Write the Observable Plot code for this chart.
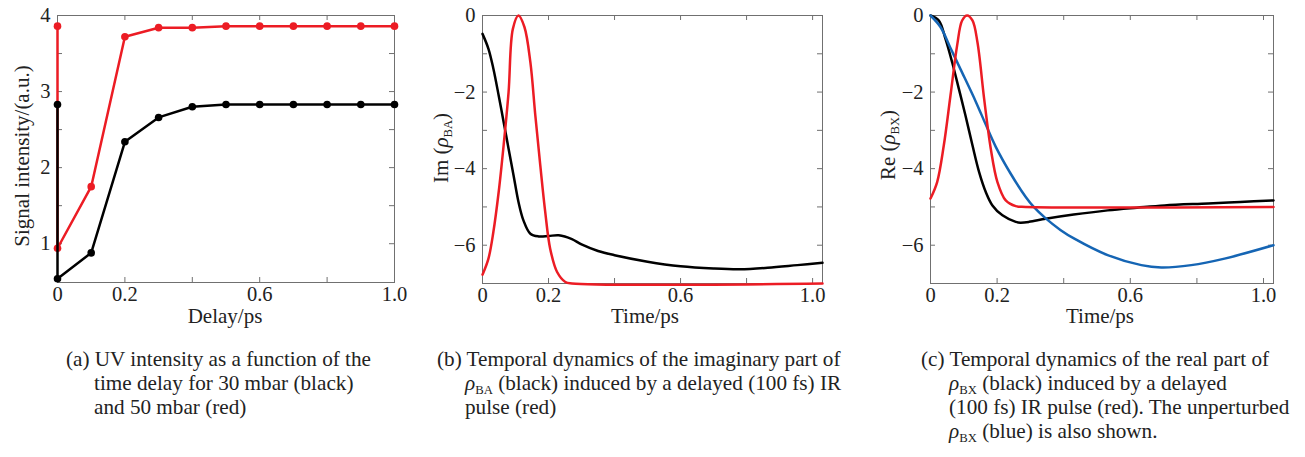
<!DOCTYPE html>
<html><head><meta charset="utf-8">
<script src="https://cdn.jsdelivr.net/npm/d3@7"></script>
<script src="https://cdn.jsdelivr.net/npm/@observablehq/plot@0.6"></script>
<style>
body{margin:0;background:#fff;}
#root{position:relative;width:1305px;height:457px;font-family:"Liberation Serif","Times New Roman",serif;color:#222;overflow:hidden;}
.panel{position:absolute;top:0;}
.ylab{position:absolute;transform:translate(-50%,-50%) rotate(-90deg);white-space:nowrap;font-size:21px;}
.xlab{position:absolute;transform:translate(-50%,0);white-space:nowrap;font-size:21px;}
.cap{position:absolute;font-size:21.2px;line-height:24px;white-space:nowrap;}
.cap .ind{padding-left:28px;}
sub{font-size:60%;vertical-align:-0.35em;line-height:0;}
</style>
</head><body>
<div id="root">
  <div class="panel" id="pa" style="left:0px"></div>
  <div class="panel" id="pb" style="left:430px"></div>
  <div class="panel" id="pc" style="left:870px"></div>
  <div class="ylab" style="left:22px;top:156px">Signal intensity/(a.u.)</div>
  <div class="ylab" style="left:441px;top:148px">Im (<i>ρ</i><sub>BA</sub>)</div>
  <div class="ylab" style="left:888px;top:145px">Re (<i>ρ</i><sub>BX</sub>)</div>
  <div class="xlab" style="left:225px;top:304px">Delay/ps</div>
  <div class="xlab" style="left:645px;top:304px">Time/ps</div>
  <div class="xlab" style="left:1100px;top:304px">Time/ps</div>
  <div class="cap" style="left:66px;top:347px">(a) UV intensity as a function of the<br><span class="ind">time delay for 30 mbar (black)</span><br><span class="ind">and 50 mbar (red)</span></div>
  <div class="cap" style="left:437px;top:347px">(b) Temporal dynamics of the imaginary part of<br><span class="ind"><i>ρ</i><sub>BA</sub> (black) induced by a delayed (100 fs) IR</span><br><span class="ind">pulse (red)</span></div>
  <div class="cap" style="left:921px;top:347px">(c) Temporal dynamics of the real part of<br><span class="ind"><i>ρ</i><sub>BX</sub> (black) induced by a delayed</span><br><span class="ind">(100 fs) IR pulse (red). The unperturbed</span><br><span class="ind"><i>ρ</i><sub>BX</sub> (blue) is also shown.</span></div>
</div>
<script>
// ---------- Data ----------
// (a) UV intensity vs delay
const aDelay   = [0, 0, 0.1, 0.2, 0.3, 0.4, 0.5, 0.6, 0.7, 0.8, 0.9, 1.0];
const a50mbar  = [3.86, 0.94, 1.75, 3.72, 3.84, 3.84, 3.86, 3.86, 3.86, 3.86, 3.86, 3.86];
const a30mbar  = [2.83, 0.54, 0.88, 2.34, 2.66, 2.80, 2.83, 2.83, 2.83, 2.83, 2.83, 2.83];

// (b) Im(rho_BA)
const bBlackT = [0, .018, .033, .049, .064, .079, .094, .109, .124, .145, .170, .200, .231, .271, .30, .35, .40, .50, .60, .70, .78, .864, .954, 1.03];
const bBlack  = [-0.48, -0.87, -1.39, -2.09, -2.78, -3.48, -4.17, -4.87, -5.35, -5.70, -5.77, -5.76, -5.74, -5.84, -5.98, -6.15, -6.26, -6.43, -6.55, -6.61, -6.63, -6.59, -6.52, -6.46];
const bRedT   = [0, .018, .033, .049, .064, .079, .092, .109, .127, .145, .160, .175, .190, .205, .226, .251, .271, 1.03];
const bRed    = [-6.77, -6.35, -5.65, -4.61, -3.39, -2.0, -0.35, 0, -0.30, -1.22, -2.61, -3.91, -5.13, -6.09, -6.70, -6.96, -7, -7];

// (c) Re(rho_BX)
const cBlackT = [0, .025, .045, .065, .085, .105, .126, .146, .166, .186, .216, .256, .27, .296, .346, .43, .532, .62, .703, .834, .93, 1.03];
const cBlack  = [0, -0.13, -0.61, -1.22, -1.91, -2.61, -3.39, -4.09, -4.61, -4.96, -5.22, -5.39, -5.41, -5.39, -5.31, -5.2, -5.09, -5.02, -4.96, -4.91, -4.87, -4.83];
const cBlueT  = [0, .03, .06, .09, .136, .166, .196, .24, .286, .31, .346, .39, .432, .532, .633, .693, .783, .883, 1.03];
const cBlue   = [0, -0.3, -0.85, -1.4, -2.25, -2.85, -3.43, -4.12, -4.74, -5.0, -5.3, -5.6, -5.83, -6.26, -6.52, -6.58, -6.52, -6.35, -6.0];
const cRedT   = [0, .02, .04, .06, .08, .095, .11, .126, .141, .161, .181, .201, .226, .256, .286, 1.03];
const cRed    = [-4.78, -4.35, -3.39, -2.09, -0.78, -0.13, 0, -0.13, -0.70, -2.17, -3.48, -4.35, -4.83, -4.98, -5.0, -5.0];

// Ticks
const aXTicks = [0, 0.2, 0.4, 0.6, 0.8, 1.0];
const aXLabels = [0, 0.2, 0.6, 1.0];
const aYTicks = [1, 1.5, 2, 2.5, 3, 3.5, 4];
const aYLabels = [1, 2, 3, 4];
const tXTicks = [0, 0.2, 0.4, 0.6, 0.8, 1.0];
const tXLabels = [0, 0.2, 0.6, 1.0];
const tYTicks = [0, -1, -2, -3, -4, -5, -6, -7];
const tYLabels = [0, -2, -4, -6];

const RED = "#ec1c24", BLACK = "#000", BLUE = "#1565b4", FRAME = "#707070";
const zip = (xs, ys) => xs.map((x, i) => ({x, y: ys[i]}));
const fmtX = d => d === 0 ? "0" : d.toFixed(1);
const fmtY = d => d < 0 ? "\u2212" + Math.abs(d) : String(d);

function panel({width, height, ml, mr, mt, mb, xDomain, yDomain, xTicks, xLabels, yTicks, yLabels, marks}) {
  const pw = width - ml - mr, ph = height - mt - mb, t = 5;
  return Plot.plot({
    width, height, marginLeft: ml, marginRight: mr, marginTop: mt, marginBottom: mb,
    x: {domain: xDomain}, y: {domain: yDomain},
    style: {fontFamily: "'Liberation Serif','Times New Roman',serif", fontSize: "20.5px", color: "#222", background: "transparent", overflow: "visible"},
    marks: [
      Plot.frame({stroke: FRAME}),
      Plot.tickX(xTicks, {x: d => d, insetTop: ph - t, stroke: FRAME}),
      Plot.tickX(xTicks, {x: d => d, insetBottom: ph - t, stroke: FRAME}),
      Plot.tickY(yTicks, {y: d => d, insetRight: pw - t, stroke: FRAME}),
      Plot.tickY(yTicks, {y: d => d, insetLeft: pw - t, stroke: FRAME}),
      Plot.axisX(xLabels, {tickSize: 0, tickPadding: 4, tickFormat: fmtX, label: null}),
      Plot.axisY(yLabels, {tickSize: 0, tickPadding: 7, tickFormat: fmtY, label: null}),
      ...marks
    ]
  });
}

const dA50 = zip(aDelay, a50mbar), dA30 = zip(aDelay, a30mbar);
document.getElementById("pa").append(panel({
  width: 420, height: 310, ml: 57, mr: 26, mt: 15, mb: 28,
  xDomain: [0, 1], yDomain: [0.49, 4],
  xTicks: aXTicks, xLabels: aXLabels, yTicks: aYTicks, yLabels: aYLabels,
  marks: [
    Plot.line(dA50, {x: "x", y: "y", stroke: RED, strokeWidth: 2.5}),
    Plot.dot(dA50, {x: "x", y: "y", fill: RED, r: 3.8}),
    Plot.line(dA30, {x: "x", y: "y", stroke: BLACK, strokeWidth: 2.5}),
    Plot.dot(dA30, {x: "x", y: "y", fill: BLACK, r: 3.8})
  ]
}));

document.getElementById("pb").append(panel({
  width: 400, height: 310, ml: 52, mr: 8, mt: 15, mb: 27,
  xDomain: [0, 1.03], yDomain: [-7, 0],
  xTicks: tXTicks, xLabels: tXLabels, yTicks: tYTicks, yLabels: tYLabels,
  marks: [
    Plot.line(zip(bBlackT, bBlack), {x: "x", y: "y", stroke: BLACK, strokeWidth: 2.5, curve: "catmull-rom"}),
    Plot.line(zip(bRedT, bRed), {x: "x", y: "y", stroke: RED, strokeWidth: 2.5, curve: "catmull-rom"})
  ]
}));

document.getElementById("pc").append(panel({
  width: 420, height: 310, ml: 60, mr: 17, mt: 15, mb: 27,
  xDomain: [0, 1.03], yDomain: [-7, 0],
  xTicks: tXTicks, xLabels: tXLabels, yTicks: tYTicks, yLabels: tYLabels,
  marks: [
    Plot.line(zip(cBlackT, cBlack), {x: "x", y: "y", stroke: BLACK, strokeWidth: 2.5, curve: "catmull-rom"}),
    Plot.line(zip(cBlueT, cBlue), {x: "x", y: "y", stroke: BLUE, strokeWidth: 2.5, curve: "catmull-rom"}),
    Plot.line(zip(cRedT, cRed), {x: "x", y: "y", stroke: RED, strokeWidth: 2.5, curve: "catmull-rom"})
  ]
}));
</script>
</body></html>
